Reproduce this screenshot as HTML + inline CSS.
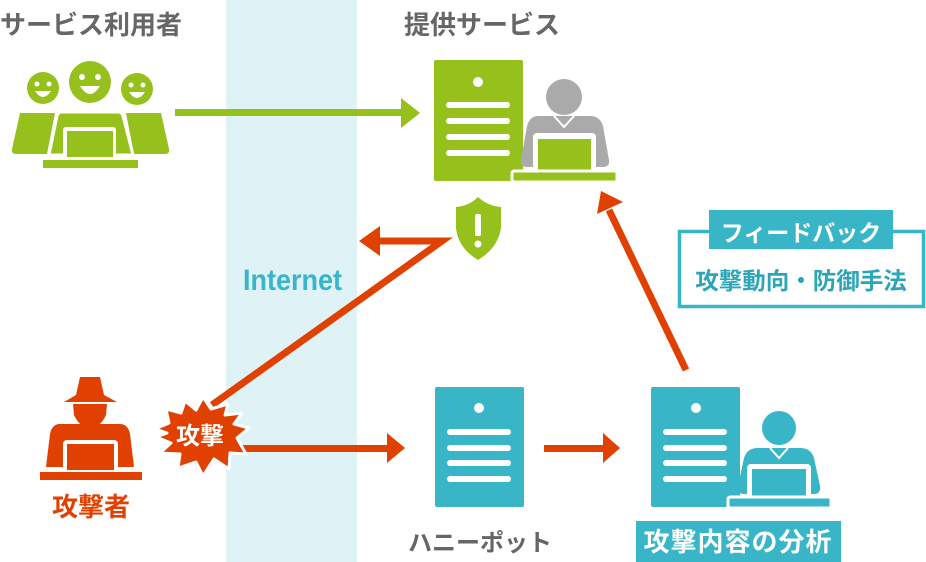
<!DOCTYPE html>
<html><head><meta charset="utf-8"><style>
html,body{margin:0;padding:0;background:#fff;}
svg{display:block;}
text{font-family:"Liberation Sans","Noto Sans CJK JP",sans-serif;font-weight:bold;}
</style></head><body>
<svg width="926" height="562" viewBox="0 0 926 562" xmlns="http://www.w3.org/2000/svg">
<!-- internet band -->
<rect x="226" y="0" width="131" height="562" fill="#dff3f7"/>
<text x="243" y="290" font-size="30" fill="#38b5c8" textLength="99" lengthAdjust="spacingAndGlyphs">Internet</text>

<!-- titles -->
<text x="0" y="34" font-size="26" fill="#666">サービス利用者</text>
<text x="404" y="34" font-size="26" fill="#666">提供サービス</text>
<text x="480" y="551" font-size="24" fill="#666" text-anchor="middle">ハニーポット</text>
<text x="91" y="516" font-size="26" fill="#e04100" text-anchor="middle">攻撃者</text>

<!-- users icon -->
<g fill="#96c11c">
<circle cx="43" cy="88" r="16"/>
<circle cx="90" cy="82" r="21"/>
<circle cx="137" cy="89" r="16"/>
<path d="M20,113 L55,113 L47,154 L16,154 Q11,154 12,149 Z"/>
<path d="M126,113 L161,113 L169,149 Q170,154 165,154 L134,154 Z"/>
<path d="M62,112 L118,112 Q122,112 123,116 L133,155 L49,155 L57,116 Q58,112 62,112 Z" stroke="#fff" stroke-width="3"/>
<rect x="43" y="160" width="95" height="8"/>
</g>
<g fill="#fff">
<circle cx="37" cy="84" r="2.5"/><circle cx="49" cy="84" r="2.5"/>
<path d="M35,91 Q43,103 51,91 Z"/>
<circle cx="82" cy="77" r="3"/><circle cx="98" cy="77" r="3"/>
<path d="M80,86 Q90,102 100,86 Z"/>
<circle cx="131" cy="85" r="2.5"/><circle cx="143" cy="85" r="2.5"/>
<path d="M129,92 Q137,104 145,92 Z"/>
<rect x="63" y="127" width="53" height="30" rx="3"/>
</g>
<rect x="67" y="131" width="46" height="26" fill="#96c11c"/>

<!-- green arrow -->
<rect x="175" y="109" width="230" height="7" fill="#96c11c"/>
<polygon points="420,113 401,98 401,128" fill="#96c11c"/>

<!-- provider server -->
<rect x="434" y="60" width="89" height="121" rx="2" fill="#96c11c"/>
<circle cx="478" cy="82" r="5" fill="#fff"/>
<g stroke="#fff" stroke-width="6" stroke-linecap="round">
<line x1="449" y1="105" x2="507" y2="105"/>
<line x1="449" y1="121" x2="507" y2="121"/>
<line x1="449" y1="137" x2="507" y2="137"/>
<line x1="449" y1="153" x2="507" y2="153"/>
</g>
<!-- gray person -->
<circle cx="564" cy="97" r="18" fill="#aaa"/>
<path d="M538,116 L590,116 Q600,116 603,126 L609,160 Q610,167 603,167 L527,167 Q520,167 521,160 L527,126 Q530,116 538,116 Z" fill="#aaa"/>
<polyline points="554,116 564,127 574,116" fill="none" stroke="#fff" stroke-width="2"/>
<rect x="533" y="133" width="63" height="42" rx="4" fill="#fff"/>
<rect x="538" y="139" width="53" height="34" fill="#96c11c"/>
<rect x="512" y="171" width="105" height="11" rx="2" fill="#96c11c" stroke="#fff" stroke-width="3"/>

<!-- shield -->
<path d="M478,197 Q469,206 456,207 L456,228 Q458,248 478,260 Q498,248 501,228 L501,207 Q488,206 478,197 Z" fill="#96c11c"/>
<rect x="475" y="214" width="6" height="22" rx="2" fill="#fff"/>
<circle cx="478" cy="244" r="3.5" fill="#fff"/>

<!-- red attack arrow to shield and back -->
<polyline points="212,405 442,241 378,241" fill="none" stroke="#e04100" stroke-width="7" stroke-linejoin="miter"/>
<polygon points="359,241 380,226 380,256" fill="#e04100"/>

<!-- attacker -->
<g fill="#e04100">
<path d="M80,377 L100,377 L104,395 L117,402 L64,402 L76,395 Z"/>
<path d="M73,404 L107,404 L106,415 Q100,428 90,428 Q80,428 74,415 Z"/>
<path d="M60,424 L120,424 Q128,424 130,434 L134,467 L46,467 L50,434 Q52,424 60,424 Z"/>
<rect x="40" y="472" width="102" height="8"/>
</g>
<rect x="63" y="440" width="55" height="30" rx="4" fill="#fff"/>
<rect x="67" y="444" width="47" height="26" fill="#e04100"/>

<!-- bottom arrow from burst -->
<rect x="238" y="445" width="152" height="7" fill="#e04100"/>
<polygon points="405,448 387,433 387,463" fill="#e04100"/>

<!-- starburst -->
<polygon points="155,429 169,423 166,409 181,413 185,401 196,410 203,397 211,409 228,404 225,415 242,413 234,424 249,428 237,438 246,454 230,453 229,469 214,459 203,476 196,462 178,468 180,454 160,453 171,443 156,437 167,433" fill="#e04100" stroke="#fff" stroke-width="3" stroke-linejoin="round"/>
<text x="200" y="444" font-size="24" fill="#fff" text-anchor="middle">攻撃</text>

<!-- honeypot server -->
<rect x="435" y="387" width="89" height="120" rx="2" fill="#38b6c8"/>
<circle cx="479" cy="408" r="5" fill="#fff"/>
<g stroke="#fff" stroke-width="6" stroke-linecap="round">
<line x1="450" y1="432" x2="508" y2="432"/>
<line x1="450" y1="448" x2="508" y2="448"/>
<line x1="450" y1="463" x2="508" y2="463"/>
<line x1="450" y1="479" x2="508" y2="479"/>
</g>

<!-- honeypot -> analysis arrow -->
<rect x="544" y="445" width="60" height="7" fill="#e04100"/>
<polygon points="620,448 603,433 603,463" fill="#e04100"/>

<!-- analysis server -->
<rect x="651" y="387" width="89" height="120" rx="2" fill="#38b6c8"/>
<circle cx="696" cy="408" r="5" fill="#fff"/>
<g stroke="#fff" stroke-width="6" stroke-linecap="round">
<line x1="666" y1="432" x2="724" y2="432"/>
<line x1="666" y1="448" x2="724" y2="448"/>
<line x1="666" y1="463" x2="724" y2="463"/>
<line x1="666" y1="479" x2="724" y2="479"/>
</g>
<circle cx="779" cy="428" r="17" fill="#38b6c8"/>
<path d="M758,448 L800,448 Q811,448 814,458 L820,486 Q821,494 814,494 L744,494 Q737,494 738,486 L744,458 Q747,448 758,448 Z" fill="#38b6c8"/>
<polyline points="770,448 779,458 788,448" fill="none" stroke="#fff" stroke-width="2"/>
<rect x="747" y="464" width="64" height="40" rx="4" fill="#fff"/>
<rect x="752" y="469" width="54" height="34" fill="#38b6c8"/>
<rect x="728" y="497" width="103" height="11" rx="2" fill="#38b6c8" stroke="#fff" stroke-width="3"/>

<!-- analysis label -->
<rect x="636" y="521" width="205" height="41" fill="#38b6c8"/>
<text x="738" y="551" font-size="26" fill="#fff" text-anchor="middle" letter-spacing="1">攻撃内容の分析</text>

<!-- up arrow -->
<line x1="686" y1="370" x2="609" y2="210" stroke="#e04100" stroke-width="7"/>
<polygon points="601,191 623,202 597,214" fill="#e04100"/>

<!-- feedback box -->
<rect x="679.5" y="231.5" width="244" height="75" fill="#fff" stroke="#38b6c8" stroke-width="3.5"/>
<rect x="709" y="210" width="184" height="39" fill="#38b6c8"/>
<text x="801" y="241" font-size="23" fill="#fff" text-anchor="middle">フィードバック</text>
<text x="801" y="289" font-size="23.5" fill="#2ba5b8" text-anchor="middle">攻撃動向・防御手法</text>
</svg>
</body></html>
